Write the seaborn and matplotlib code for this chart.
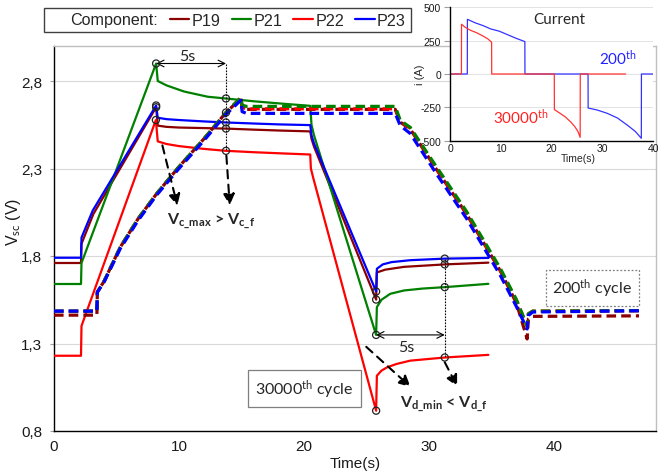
import numpy as np
import pandas as pd
import matplotlib
matplotlib.use("Agg")
import matplotlib.pyplot as plt
import seaborn as sns
from matplotlib.lines import Line2D

# ---------------- data ----------------
components = ["P19", "P21", "P22", "P23"]
colors = ["#8B0000", "#008000", "#FF0000", "#0000FF"]
y_ticks = [0.8, 1.3, 1.8, 2.3, 2.8]
y_tick_labels = ["0,8", "1,3", "1,8", "2,3", "2,8"]
x_ticks = [0, 10, 20, 30, 40]

# 30000th cycle (solid lines)
t_p19_s = [0, 2.16, 2.2, 3.15, 8.17, 8.3, 9.0, 10.0, 12.0, 13.76, 16.0, 18.0, 20.5, 20.6, 20.8,
           25.77, 25.83, 26.5, 28.0, 31.26, 34.75]
v_p19_s = [1.76, 1.76, 1.87, 2.04, 2.65, 2.545, 2.538, 2.534, 2.531, 2.528, 2.522, 2.517, 2.512, 2.47, 2.425,
           1.551, 1.706, 1.722, 1.738, 1.752, 1.762]
t_p21_s = [0, 2.16, 2.2, 8.17, 8.3, 9.0, 10.4, 12.3, 13.76, 16.0, 18.0, 20.5, 20.6, 20.8,
           25.77, 25.83, 26.2, 26.9, 28.0, 29.5, 31.26, 34.75]
v_p21_s = [1.64, 1.64, 1.76, 2.90, 2.80, 2.775, 2.74, 2.71, 2.70, 2.684, 2.672, 2.658, 2.55, 2.49,
           1.349, 1.508, 1.55, 1.584, 1.603, 1.614, 1.622, 1.641]
t_p22_s = [0, 2.16, 2.2, 2.5, 8.15, 8.3, 9.0, 10.0, 12.0, 13.76, 16.0, 18.0, 20.5, 20.55, 20.75,
           25.77, 25.83, 26.2, 26.65, 27.4, 28.5, 31.26, 34.75]
v_p22_s = [1.23, 1.23, 1.40, 1.46, 2.577, 2.455, 2.44, 2.428, 2.412, 2.401, 2.393, 2.387, 2.38, 2.30, 2.243,
           0.916, 1.116, 1.145, 1.164, 1.183, 1.202, 1.22, 1.235]
t_p23_s = [0, 2.16, 2.2, 3.1, 8.17, 8.3, 9.0, 10.0, 12.0, 13.76, 16.0, 18.0, 20.5, 20.6, 20.8,
           25.77, 25.83, 26.3, 27.0, 28.5, 31.26, 34.75]
v_p23_s = [1.79, 1.79, 1.905, 2.06, 2.66, 2.59, 2.582, 2.577, 2.569, 2.563, 2.557, 2.552, 2.548, 2.49, 2.443,
           1.597, 1.727, 1.752, 1.765, 1.776, 1.785, 1.789]

# 200th cycle (dashed lines)
t_d = [0, 3.43, 3.47, 4.0, 5.3, 6.7, 8.2, 10.0, 12.0, 13.76, 14.95, 15.05, 15.4, 27.3, 27.7, 28.5,
       30.5, 33.0, 35.7, 37.0, 37.85, 37.95, 38.3, 46.8]
v_p19_d = [1.462, 1.462, 1.594, 1.655, 1.85, 2.01, 2.155, 2.31, 2.47, 2.62, 2.70, 2.645, 2.638, 2.638, 2.565, 2.525,
           2.305, 2.04, 1.715, 1.53, 1.326, 1.44, 1.455, 1.458]
v_p21_d = [1.485, 1.485, 1.594, 1.655, 1.85, 2.01, 2.155, 2.31, 2.47, 2.62, 2.705, 2.662, 2.655, 2.655, 2.575, 2.535,
           2.32, 2.055, 1.73, 1.55, 1.40, 1.47, 1.485, 1.488]
v_p22_d = [1.485, 1.485, 1.594, 1.655, 1.85, 2.01, 2.155, 2.31, 2.47, 2.62, 2.705, 2.648, 2.641, 2.641, 2.57, 2.53,
           2.31, 2.045, 1.72, 1.545, 1.40, 1.47, 1.485, 1.487]
v_p23_d = [1.485, 1.485, 1.594, 1.65, 1.842, 2.0, 2.147, 2.30, 2.46, 2.61, 2.69, 2.625, 2.615, 2.615, 2.545, 2.50,
           2.28, 2.015, 1.69, 1.51, 1.383, 1.46, 1.48, 1.487]

# inset: current
t_i30k = [0, 2.25, 2.27, 3.0, 4.0, 5.2, 6.5, 7.5, 8.2, 8.22, 20.55, 20.57, 21.5, 22.7, 23.8, 24.6, 25.2, 25.65,
          25.67, 34.6]
i_30k = [0, 0, 373, 350, 328, 310, 285, 262, 238, 0, 0, -267, -290, -321, -360, -395, -430, -475, 0, 0]
t_i200 = [0, 3.41, 3.43, 5.0, 6.5, 8.0, 9.7, 11.5, 13.0, 14.75, 14.77, 27.2, 27.22, 29.0, 31.0, 33.0, 35.0,
          36.5, 37.7, 37.72, 40.0]
i_200 = [0, 0, 410, 383, 363, 338, 321, 292, 268, 243, 0, 0, -255, -270, -295, -330, -385, -430, -482, 0, 0]

solid = {"P19": (t_p19_s, v_p19_s), "P21": (t_p21_s, v_p21_s),
         "P22": (t_p22_s, v_p22_s), "P23": (t_p23_s, v_p23_s)}
dashed = {"P19": v_p19_d, "P21": v_p21_d, "P22": v_p22_d, "P23": v_p23_d}
dashed_order = ["P19", "P22", "P21", "P23"]

# annotation times
t_after = 13.76
t_dis_after = 31.26

# ---------------- style ----------------
sns.set_theme(style="white")
plt.rcParams["font.family"] = ["Liberation Sans", "DejaVu Sans"]
plt.rcParams["mathtext.fontset"] = "custom"
plt.rcParams["mathtext.rm"] = "Lato"
plt.rcParams["mathtext.bf"] = "Lato:bold"
plt.rcParams["mathtext.it"] = "Lato:italic"
plt.rcParams["mathtext.sf"] = "Lato"
plt.rcParams["axes.unicode_minus"] = False

fig = plt.figure(figsize=(6.59, 4.77), dpi=100)
ax = fig.add_axes([54 / 659, 1 - 432 / 477, 602 / 659, 385 / 477])

col = dict(zip(components, colors))

for c in components:
    t, v = solid[c]
    sns.lineplot(data=pd.DataFrame({"t": t, "V": v}), x="t", y="V", color=col[c], lw=1.6,
                 estimator=None, sort=False, ax=ax, legend=False, zorder=3)
for c in dashed_order:
    sns.lineplot(data=pd.DataFrame({"t": t_d, "V": dashed[c]}), x="t", y="V", color=col[c], lw=2.3,
                 linestyle=(0, (3, 1.6)), estimator=None, sort=False, ax=ax, legend=False, zorder=3)

# circle markers on the curves
mx, my = [], []
for c in components:
    t, v = solid[c]
    t = np.array(t); v = np.array(v)
    m1 = (t > 5) & (t < 10)
    k = np.argmax(np.where(m1, v, -np.inf)); mx.append(t[k]); my.append(v[k])
    mx.append(t_after); my.append(np.interp(t_after, t, v))
    m2 = (t > 24) & (t < 27)
    k = np.argmin(np.where(m2, v, np.inf)); mx.append(t[k]); my.append(v[k])
    mx.append(t_dis_after); my.append(np.interp(t_dis_after, t, v))
mx.append(t_after); my.append(np.interp(t_after, t_d, v_p22_d))
sns.scatterplot(x=mx, y=my, s=26, color="black", ax=ax, zorder=6, legend=False)
pts = ax.collections[-1]
pts.set_facecolor("none"); pts.set_edgecolor("#222222"); pts.set_linewidth(0.9)

# key values for annotations
v21 = np.array(v_p21_s); t21 = np.array(t_p21_s)
v_g_peak = v21[(t21 > 5) & (t21 < 10)].max()
t_g_peak = t21[np.argmax(np.where((t21 > 5) & (t21 < 10), v21, -np.inf))]
v_r_after = np.interp(t_after, t_p22_s, v_p22_s)
v_g_min = v21[(t21 > 24) & (t21 < 27)].min()
t_g_min = t21[np.argmin(np.where((t21 > 24) & (t21 < 27), v21, np.inf))]
v_b_dis = np.interp(t_dis_after, t_p23_s, v_p23_s)
v_r_dis = np.interp(t_dis_after, t_p22_s, v_p22_s)

# vertical dotted lines and 5s arrows
ax.plot([t_after, t_after], [v_g_peak, v_r_after], color="black", lw=0.8, ls=(0, (1.5, 1.2)), zorder=4)
ax.plot([t_dis_after, t_dis_after], [v_b_dis, v_r_dis], color="black", lw=0.8, ls=(0, (1.5, 1.2)), zorder=4)
ax.annotate("", xy=(t_after, v_g_peak), xytext=(t_g_peak, v_g_peak),
            arrowprops=dict(arrowstyle="<->", lw=0.8, color="black", shrinkA=0, shrinkB=0), zorder=5)
ax.annotate("", xy=(t_dis_after, v_g_min), xytext=(t_g_min, v_g_min),
            arrowprops=dict(arrowstyle="<->", lw=0.8, color="black", shrinkA=0, shrinkB=0), zorder=5)

afont = dict(family=["Lato", "DejaVu Sans"])
ax.text(10.65, 2.945, "5s", fontsize=11.5, ha="center", va="center", **afont)
ax.text(28.17, 1.279, "5s", fontsize=11.5, ha="center", va="center", **afont)

# dashed arrows
dash_arrow = dict(arrowstyle="-|>,head_length=0.55,head_width=0.28", lw=1.5, color="black",
                  linestyle=(0, (4, 3)), shrinkA=0, shrinkB=0)
ax.annotate("", xy=(9.87, 2.088), xytext=(8.67, 2.432), arrowprops=dash_arrow)
ax.annotate("", xy=(14.06, 2.09), xytext=(13.79, 2.374), arrowprops=dash_arrow)
ax.annotate("", xy=(28.52, 1.052), xytext=(24.98, 1.281), arrowprops=dash_arrow)
ax.annotate("", xy=(32.25, 1.055), xytext=(31.26, 1.193), arrowprops=dash_arrow)

ax.text(12.59, 2.004, r"V$_{\mathbf{c\_max}}$ > V$_{\mathbf{c\_f}}$", fontsize=11.5, fontweight="bold",
        ha="center", va="center", **afont)
ax.text(31.15, 0.96, r"V$_{\mathbf{d\_min}}$ < V$_{\mathbf{d\_f}}$", fontsize=11.5, fontweight="bold",
        ha="center", va="center", **afont)

ax.text(20.03, 1.043, r"30000$^{\mathrm{th}}$ cycle", fontsize=11.5, ha="center", va="center",
        bbox=dict(boxstyle="square,pad=0.45", fc="white", ec="#7F7F7F", lw=0.9), zorder=7, **afont)
ax.text(43.07, 1.618, r"200$^{\mathrm{th}}$ cycle", fontsize=11.5, ha="center", va="center",
        bbox=dict(boxstyle="square,pad=0.4", fc="white", ec="#7F7F7F", lw=0.9, ls=(0, (1.5, 1.5))),
        zorder=7, **afont)

# axes styling
ax.set_xlim(0, 48.16)
ax.set_ylim(0.8, 3.0)
ax.set_xticks(x_ticks)
ax.set_xticklabels([str(x) for x in x_ticks])
ax.set_yticks(y_ticks)
ax.set_yticklabels(y_tick_labels)
ax.yaxis.grid(True, color="#D9D9D9", lw=0.8)
ax.xaxis.grid(False)
ax.set_axisbelow(True)
ax.tick_params(axis="y", which="major", left=True, length=3, width=0.8, color="#A0A0A0", pad=5.5,
               labelsize=11, labelcolor="#1a1a1a")
ax.tick_params(axis="x", which="major", bottom=True, length=0, pad=6, labelsize=11, labelcolor="#1a1a1a")
for s in ["left", "bottom"]:
    ax.spines[s].set_color("black"); ax.spines[s].set_linewidth(1.0)
for s in ["top", "right"]:
    ax.spines[s].set_color("#BFBFBF"); ax.spines[s].set_linewidth(1.0)
ax.set_xlabel("Time(s)", fontsize=11, labelpad=2, color="#1a1a1a")
ax.set_ylabel(r"V$_{\mathrm{sc}}$ (V)", fontsize=11.5, color="#1a1a1a")
ax.yaxis.set_label_coords(-0.052, 0.545)

# legend
handles = [Line2D([], [], color="none")] + [Line2D([], [], color=col[c], lw=1.6) for c in components]
labels = ["Component:"] + components
leg = fig.legend(handles, labels, loc="center left", bbox_to_anchor=(44 / 659, 1 - 21 / 477), ncol=5,
                 frameon=True, fancybox=False, edgecolor="#404040", framealpha=1, fontsize=11.6,
                 handlelength=1.2, handletextpad=0.15, columnspacing=0.7, borderpad=0.3,
                 borderaxespad=0)
leg.get_frame().set_linewidth(1.0)

# ---------------- inset ----------------
ax_in = fig.add_axes([450 / 659, 1 - 141.7 / 477, 203 / 659, 133.4 / 477])
ax_in.set_facecolor("white")
sns.lineplot(data=pd.DataFrame({"t": t_i200, "i": i_200}), x="t", y="i", color="#3333FF", lw=0.9,
             estimator=None, sort=False, ax=ax_in, legend=False)
sns.lineplot(data=pd.DataFrame({"t": t_i30k, "i": i_30k}), x="t", y="i", color="#FF3333", lw=0.9,
             estimator=None, sort=False, ax=ax_in, legend=False)
ax_in.set_xlim(0, 40)
ax_in.set_ylim(-500, 500)
ax_in.set_xticks([0, 10, 20, 30, 40])
ax_in.set_yticks([-500, -250, 0, 250, 500])
ax_in.yaxis.grid(True, color="#E3E3E3", lw=0.7)
ax_in.xaxis.grid(False)
ax_in.set_axisbelow(True)
ax_in.tick_params(axis="y", left=True, length=4, width=0.8, color="#A0A0A0", pad=2.5, labelsize=7.5,
                  labelcolor="#1a1a1a")
ax_in.tick_params(axis="x", bottom=False, length=0, pad=2, labelsize=7.5, labelcolor="#1a1a1a")
for s in ["left", "bottom"]:
    ax_in.spines[s].set_color("black"); ax_in.spines[s].set_linewidth(1.0)
for s in ["top", "right"]:
    ax_in.spines[s].set_visible(False)
ax_in.set_xlabel("")
ax_in.set_ylabel("i (A)", fontsize=8)
ax_in.yaxis.set_label_coords(-0.125, 0.5)
ax_in.text(0.631, -0.127, "Time(s)", transform=ax_in.transAxes, fontsize=7.5, ha="center", va="center")
ax_in.text(0.539, 0.91, "Current", transform=ax_in.transAxes, fontsize=11, ha="center", va="center", **afont)
ax_in.text(0.825, 0.627, r"200$^{\mathrm{th}}$", transform=ax_in.transAxes, fontsize=11, color="#2222FF",
           ha="center", va="center", **afont)
ax_in.text(0.35, 0.187, r"30000$^{\mathrm{th}}$", transform=ax_in.transAxes, fontsize=11, color="#FF2222",
           ha="center", va="center", **afont)

fig.savefig("out.png", dpi=100)
